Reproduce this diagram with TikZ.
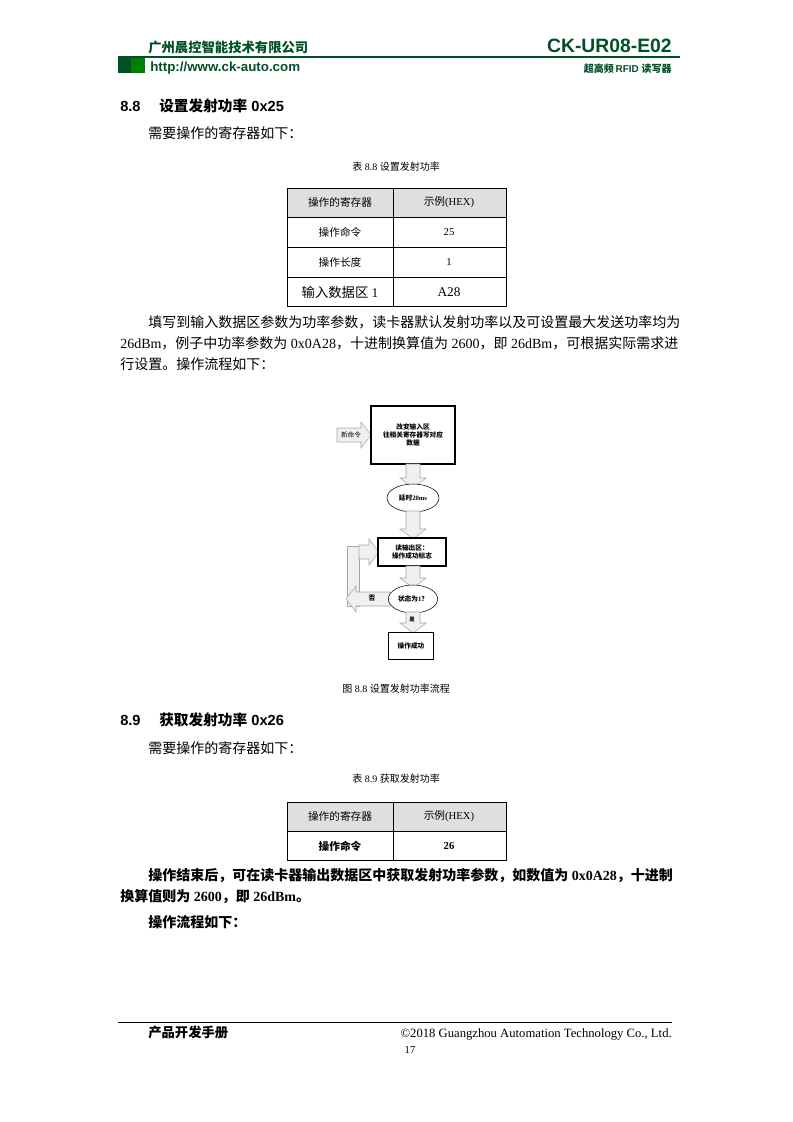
\documentclass[tikz,border=0pt]{standalone}
\usepackage{fontspec}
\setmainfont{Liberation Serif}
\setsansfont{Liberation Sans}
\newfontfamily\zhfont{Noto Sans CJK SC}
\newcommand{\zh}[1]{{\zhfont #1}}
\usetikzlibrary{shapes.geometric}
\definecolor{HeadGreen}{RGB}{0,80,40}
\definecolor{BarGreen}{RGB}{0,128,0}
\colorlet{CellFill}{gray!25}
\colorlet{ArrowFill}{gray!12}
% hollow block arrows: x, y top, y tip / y, x tail, x tip
\newcommand{\arrowdown}[3]{\filldraw[draw=gray!70,fill=ArrowFill] ({#1-7},#2) -- ({#1+7},#2) -- ({#1+7},{#3-10}) -- ({#1+13},{#3-10}) -- (#1,#3) -- ({#1-13},{#3-10}) -- ({#1-7},{#3-10}) -- cycle;}
\newcommand{\arrowright}[3]{\filldraw[draw=gray!70,fill=ArrowFill] (#2,{#1-7}) -- ({#3-10},{#1-7}) -- ({#3-10},{#1-13}) -- (#3,#1) -- ({#3-10},{#1+13}) -- ({#3-10},{#1+7}) -- (#2,{#1+7}) -- cycle;}
\newcommand{\arrowleft}[3]{\filldraw[draw=gray!70,fill=ArrowFill] (#2,{#1-7}) -- ({#3+10},{#1-7}) -- ({#3+10},{#1-13}) -- (#3,#1) -- ({#3+10},{#1+13}) -- ({#3+10},{#1+7}) -- (#2,{#1+7}) -- cycle;}
\tikzset{
  body/.style={anchor=base west,inner sep=0pt,font=\fontsize{10.5}{12}\selectfont},
  caption/.style={anchor=base,inner sep=0pt,font=\fontsize{7.5}{9}\selectfont},
  cell/.style={inner sep=0pt,font=\fontsize{8}{9}\selectfont},
  stepbox/.style={draw,thick,fill=white,align=center,font=\fontsize{5}{6}\selectfont\bfseries},
  stepoval/.style={draw,ellipse,fill=white,align=center,inner sep=0pt,font=\fontsize{5}{6}\selectfont\bfseries},
  flowlbl/.style={inner sep=0pt,font=\zhfont\bfseries\fontsize{5}{6}\selectfont}
}
\begin{document}
\begin{tikzpicture}[x=0.75pt,y=-0.75pt]
\useasboundingbox (0,0) rectangle (793,1122);

% header
\node[anchor=base west,inner sep=0pt,text=HeadGreen,font=\zhfont\bfseries\fontsize{10}{12}\selectfont] (company) at (148,52) {广州晨控智能技术有限公司};
\node[anchor=base east,inner sep=0pt,text=HeadGreen,font=\sffamily\bfseries\fontsize{14.5}{16}\selectfont] (model) at (672,52) {CK-UR08-E02};
\draw[HeadGreen,line width=1pt] (118,57) -- (680,57);
\fill[HeadGreen] (118,58) rectangle (131,73);
\fill[BarGreen] (131,58) rectangle (145,73);
\node[anchor=base west,inner sep=0pt,text=HeadGreen,font=\sffamily\bfseries\fontsize{10}{12}\selectfont] (url) at (150,71) {http://www.ck-auto.com};
\node[anchor=base east,inner sep=0pt,text=HeadGreen,font=\bfseries\fontsize{7.5}{9}\selectfont] (product) at (672,72) {\zh{超高频}\,\sffamily RFID \zh{读写器}};

% section 8.8
\node[body,font=\sffamily\bfseries\fontsize{11}{13}\selectfont] (sec88) at (120,111) {8.8\hspace{14pt}\zh{设置发射功率}\ 0x25};
\node[body] (need1) at (148,138) {\zh{需要操作的寄存器如下：}};
\node[caption] (tab88) at (396,170) {\zh{表} 8.8 \zh{设置发射功率}};

% table 8.8
\fill[CellFill] (287,188) rectangle (506,217);
\draw (287,188) rectangle (506,306);
\foreach \y in {217,247,277} \draw (287,\y) -- (506,\y);
\draw (393,188) -- (393,306);
\node[cell] (t1a) at (340,202) {\zh{操作的寄存器}};
\node[cell] (t1b) at (449,202) {\zh{示例}(HEX)};
\node[cell] (t2a) at (340,232) {\zh{操作命令}};
\node[cell] (t2b) at (449,232) {25};
\node[cell] (t3a) at (340,262) {\zh{操作长度}};
\node[cell] (t3b) at (449,262) {1};
\node[cell,font=\fontsize{10}{12}\selectfont] (t4a) at (340,292) {\zh{输入数据区} 1};
\node[cell,font=\fontsize{10}{12}\selectfont] (t4b) at (449,292) {A28};

\node[body] (para1) at (148,327) {\zh{填写到输入数据区参数为功率参数，读卡器默认发射功率以及可设置最大发送功率均为}};
\node[body] (para2) at (120,348) {26dBm\zh{，例子中功率参数为} 0x0A28\zh{，十进制换算值为} 2600\zh{，即} 26dBm\zh{，可根据实际需求进}};
\node[body] (para3) at (120,369) {\zh{行设置。操作流程如下：}};

% flow chart
\arrowright{435}{337}{371}
\node[flowlbl,font=\zhfont\fontsize{5}{6}\selectfont] (newcmd) at (351,435) {新命令};
\node[stepbox,minimum width=63pt,minimum height=43.5pt] (change) at (413,435) {\zh{改变输入区}\\\zh{往相关寄存器写对应}\\\zh{数据}};
\arrowdown{413}{464}{488}
\node[stepoval,minimum width=39pt,minimum height=21pt] (delay) at (413,498) {\zh{延时}20ms};
\arrowdown{413}{511}{539}
\filldraw[draw=gray!70,fill=ArrowFill] (347,546) rectangle (359,606);
\arrowright{552}{359}{379}
\node[stepbox,minimum width=51pt,minimum height=21pt] (readout) at (412,552) {\zh{读输出区：}\\\zh{操作成功标志}};
\arrowdown{413}{566}{588}
\arrowleft{599}{390}{346}
\node[flowlbl] (nolbl) at (372,598) {否};
\node[stepoval,minimum width=37pt,minimum height=21pt] (state) at (413,599) {\zh{状态为}1\zh{？}};
\arrowdown{413}{612}{633}
\node[flowlbl,font=\zhfont\bfseries\fontsize{4}{5}\selectfont] (yeslbl) at (412,620) {是};
\node[stepbox,minimum width=34pt,minimum height=20pt] (done) at (411,646) {\zh{操作成功}};

\node[caption] (fig88) at (396,692) {\zh{图} 8.8 \zh{设置发射功率流程}};

% section 8.9
\node[body,font=\sffamily\bfseries\fontsize{11}{13}\selectfont] (sec89) at (120,725) {8.9\hspace{14pt}\zh{获取发射功率}\ 0x26};
\node[body] (need2) at (148,753) {\zh{需要操作的寄存器如下：}};
\node[caption] (tab89) at (396,782) {\zh{表} 8.9 \zh{获取发射功率}};

% table 8.9
\fill[CellFill] (287,802) rectangle (506,831);
\draw (287,802) rectangle (506,860);
\draw (287,831) -- (506,831);
\draw (393,802) -- (393,860);
\node[cell] (u1a) at (340,816) {\zh{操作的寄存器}};
\node[cell] (u1b) at (449,816) {\zh{示例}(HEX)};
\node[cell,font=\bfseries\fontsize{8}{9}\selectfont] (u2a) at (340,846) {\zh{操作命令}};
\node[cell,font=\bfseries\fontsize{8}{9}\selectfont] (u2b) at (449,846) {26};

\node[body,font=\bfseries\fontsize{10.5}{12}\selectfont] (para4) at (148,880) {\zh{操作结束后，可在读卡器输出数据区中获取发射功率参数，如数值为} 0x0A28\zh{，十进制}};
\node[body,font=\bfseries\fontsize{10.5}{12}\selectfont] (para5) at (120,901) {\zh{换算值则为} 2600\zh{，即} 26dBm\zh{。}};
\node[body,font=\bfseries\fontsize{10.5}{12}\selectfont] (para6) at (148,927) {\zh{操作流程如下：}};

% footer
\draw (118,1022) -- (672,1022);
\node[anchor=base west,inner sep=0pt,font=\zhfont\bfseries\itshape\fontsize{10}{12}\selectfont] (manual) at (148,1037) {产品开发手册};
\node[anchor=base east,inner sep=0pt,font=\fontsize{9.5}{11}\selectfont] (copy) at (672,1037) {©2018 Guangzhou Automation Technology Co., Ltd.};
\node[anchor=base,inner sep=0pt,font=\fontsize{8}{9}\selectfont] (page) at (410,1053) {17};
\end{tikzpicture}
\end{document}
